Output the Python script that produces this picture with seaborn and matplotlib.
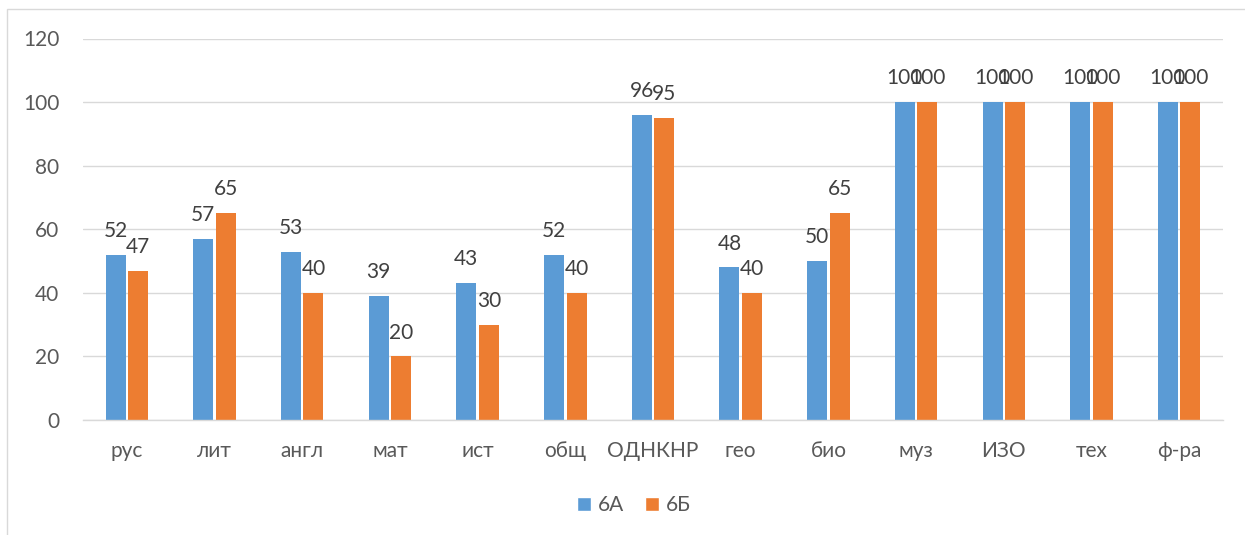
import matplotlib
matplotlib.use("Agg")
import matplotlib.pyplot as plt
import seaborn as sns
import pandas as pd
from matplotlib.patches import Rectangle

categories = ["рус", "лит", "англ", "мат", "ист", "общ", "ОДНКНР", "гео", "био", "муз", "ИЗО", "тех", "ф-ра"]
series_names = ["6А", "6Б"]
values_6a = [52, 57, 53, 39, 43, 52, 96, 48, 50, 100, 100, 100, 100]
values_6b = [47, 65, 40, 20, 30, 40, 95, 40, 65, 100, 100, 100, 100]
y_ticks = [0, 20, 40, 60, 80, 100, 120]

df = pd.DataFrame({
    "cat": categories * 2,
    "val": values_6a + values_6b,
    "cls": [series_names[0]] * len(categories) + [series_names[1]] * len(categories),
})

sns.set_theme(style="white")
plt.rcParams["font.family"] = ["Lato", "DejaVu Sans"]

W, H = 1245, 535
fig = plt.figure(figsize=(W / 100, H / 100), dpi=100)
ax = fig.add_axes([83 / W, 1 - 420 / H, (1223 - 83) / W, (420 - 38.5) / H])

blue = "#5B9BD5"
orange = "#ED7D31"
sns.barplot(data=df, x="cat", y="val", hue="cls", order=categories,
            hue_order=series_names, palette=[blue, orange],
            width=0.513, gap=0.11, ax=ax, legend=False, saturation=1,
            linewidth=0)

fs = 15
txt = "#595959"
for cont in ax.containers:
    ax.bar_label(cont, padding=10, fontsize=fs, color="#404040")

ax.set_ylim(0, 120)
ax.set_xlim(-0.5, len(categories) - 0.5)
ax.set_yticks(y_ticks)
ax.yaxis.grid(True, color="#D9D9D9", linewidth=1.0)
ax.set_axisbelow(True)
for s in ["top", "right", "left"]:
    ax.spines[s].set_visible(False)
ax.spines["bottom"].set_color("#D9D9D9")
ax.spines["bottom"].set_linewidth(1.0)
ax.tick_params(axis="y", length=0, pad=17, labelsize=fs, labelcolor=txt)
ax.tick_params(axis="x", length=0, pad=15, labelsize=fs, labelcolor=txt)
ax.set_xlabel("")
ax.set_ylabel("")

handles = [Rectangle((0, 0), 1, 1, facecolor=blue), Rectangle((0, 0), 1, 1, facecolor=orange)]
fig.legend(handles, series_names, loc="center", bbox_to_anchor=(634 / W, 1 - 505 / H),
           ncol=2, frameon=False, fontsize=fs, labelcolor=txt,
           handlelength=0.65, handleheight=0.65, handletextpad=0.35, columnspacing=1.0)

# outer chart frame (partially cropped)
fig.patches.append(Rectangle((7 / W, -0.1), 1.2, 1 - 9 / H + 0.1, transform=fig.transFigure,
                             fill=False, edgecolor="#D9D9D9", linewidth=1.0))

fig.savefig("out.png", dpi=100)
